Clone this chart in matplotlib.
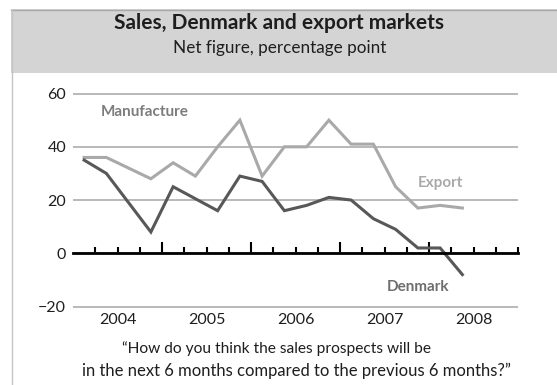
import numpy as np
import matplotlib.pyplot as plt
from matplotlib.patches import Rectangle
from matplotlib.lines import Line2D

plt.rcParams['font.family'] = ['Lato', 'DejaVu Sans']

# Quarterly net figures, 2004 Q1 - 2008 Q2
start_year = 2004
denmark = [35, 30, 19, 8, 25, 20.5, 16, 29, 27, 16, 18, 21, 20, 13, 9, 2, 2, -8]
export = [36, 36, 32, 28, 34, 29, 40, 50, 29, 40, 40, 50, 41, 41, 25, 17, 18, 17]
years = [2004, 2005, 2006, 2007, 2008]
y_ticks = [-20, 0, 20, 40, 60]

W, H = 557, 385
fig = plt.figure(figsize=(W / 100, H / 100), dpi=100)

# header band and left frame line
fig.patches.append(Rectangle((11 / W, 1 - 73 / H), 1 - 11 / W, 64 / H,
                             transform=fig.transFigure, facecolor='#d4d4d4',
                             edgecolor='none', zorder=0))
fig.lines.append(Line2D([11 / W, 1], [1 - 9.5 / H, 1 - 9.5 / H],
                        transform=fig.transFigure, color='#a8a8a8', lw=1))
fig.lines.append(Line2D([11.5 / W, 11.5 / W], [0, 1 - 9.5 / H],
                        transform=fig.transFigure, color='#c4c4c4', lw=1))

fig.text(279 / W, 1 - 23 / H, 'Sales, Denmark and export markets',
         ha='center', va='center', fontsize=15, fontweight='bold', color='#1e1e1e')
fig.text(280 / W, 1 - 48.5 / H, 'Net figure, percentage point',
         ha='center', va='center', fontsize=12.3, color='#1e1e1e')

ymin, ymax = -22, 64
px_per_unit = 2.6625
top_px = 253.3 - ymax * px_per_unit
bot_px = 253.3 - ymin * px_per_unit
ax = fig.add_axes([73 / W, 1 - bot_px / H, 445 / W, (bot_px - top_px) / H])
ax.patch.set_alpha(0)

x = start_year + (np.arange(len(denmark)) + 0.5) / 4

ax.plot(x, export, color='#a9a9a9', lw=2.2, solid_joinstyle='miter', zorder=3)
ax.plot(x, denmark, color='#585858', lw=2.2, solid_joinstyle='miter', zorder=4)

ax.set_xlim(years[0], years[-1] + 1)
ax.set_ylim(ymin, ymax)

# horizontal grid
ax.set_yticks(y_ticks)
ax.yaxis.grid(True, color='#a6a6a6', lw=1.1)
ax.tick_params(axis='y', length=0, pad=5, labelsize=11.5, labelcolor='#1e1e1e')

for side in ['top', 'right', 'left']:
    ax.spines[side].set_visible(False)

# zero line carrying the quarter ticks
ax.spines['bottom'].set_position(('data', 0))
ax.spines['bottom'].set_linewidth(2)
ax.spines['bottom'].set_zorder(5)
ax.set_xticks(years[1:])
quarters = [y + q / 4 for y in years for q in range(1, 5)]
ax.set_xticks([q for q in quarters if q not in years[1:]], minor=True)
ax.tick_params(axis='x', which='both', direction='in', labelbottom=False,
               color='black', width=1.5)
ax.tick_params(axis='x', which='major', length=8)
ax.tick_params(axis='x', which='minor', length=4.5)

for yr in years:
    ax.text(yr + 0.5, -25, str(yr), ha='center', va='center',
            fontsize=11.5, color='#1e1e1e', clip_on=False)

# series labels
ax.text(2004.81, 53, 'Manufacture', ha='center', va='center',
        fontsize=11, fontweight='bold', color='#7d7d7d')
ax.text(2008.13, 26.4, 'Export', ha='center', va='center',
        fontsize=11, fontweight='bold', color='#a9a9a9')
ax.text(2007.88, -12.6, 'Denmark', ha='center', va='center',
        fontsize=11, fontweight='bold', color='#6e6e6e')

fig.text(276 / W, 1 - 349 / H, '\u201cHow do you think the sales prospects will be',
         ha='center', va='center', fontsize=11.2, color='#1e1e1e')
fig.text(297 / W, 1 - 371 / H, 'in the next 6 months compared to the previous 6 months?\u201d',
         ha='center', va='center', fontsize=12, color='#1e1e1e')

fig.savefig('out.png', dpi=100)
